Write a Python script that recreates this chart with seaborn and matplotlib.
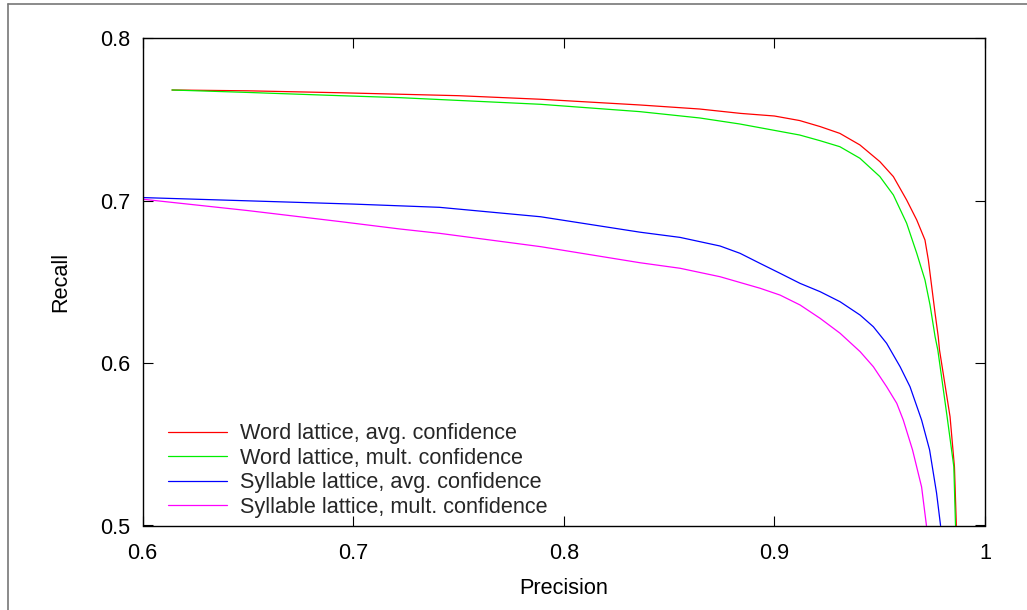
import numpy as np
import pandas as pd
import seaborn as sns
import matplotlib
matplotlib.use("Agg")
import matplotlib.pyplot as plt
from matplotlib.lines import Line2D

# Precision / recall operating points for each lattice + confidence combination
word_avg_precision = [0.614, 0.650, 0.694, 0.750, 0.789, 0.836, 0.8645, 0.884, 0.900,
                      0.912, 0.9217, 0.9311, 0.9406, 0.9501, 0.9565, 0.9628, 0.9676,
                      0.9715, 0.9731, 0.9747, 0.9763, 0.9778, 0.9784, 0.9834, 0.9855,
                      0.9864]
word_avg_recall = [0.768, 0.7675, 0.7663, 0.7645, 0.7623, 0.7588, 0.7563, 0.7536, 0.752,
                   0.7492, 0.7455, 0.7413, 0.7342, 0.7239, 0.7147, 0.7003, 0.688,
                   0.6757, 0.6634, 0.647, 0.6306, 0.6162, 0.608, 0.567, 0.536,
                   0.500]

word_mult_precision = [0.614, 0.650, 0.694, 0.722, 0.789, 0.836, 0.8645, 0.8835, 0.912,
                       0.9217, 0.9311, 0.9406, 0.9501, 0.9565, 0.9628, 0.9676, 0.9715,
                       0.9739, 0.9763, 0.9776, 0.9820, 0.9852, 0.986]
word_mult_recall = [0.768, 0.7665, 0.7645, 0.7633, 0.7592, 0.7547, 0.7508, 0.7471, 0.7403,
                    0.7368, 0.7331, 0.726, 0.7147, 0.7034, 0.686, 0.6675, 0.6511,
                    0.6357, 0.6162, 0.608, 0.567, 0.5362, 0.500]

syl_avg_precision = [0.600, 0.650, 0.700, 0.741, 0.789, 0.8362, 0.8552, 0.8742, 0.8837,
                     0.8932, 0.9027, 0.9122, 0.9217, 0.9312, 0.9407, 0.947, 0.9533,
                     0.9597, 0.9644, 0.9699, 0.9737, 0.977, 0.9789]
syl_avg_recall = [0.7018, 0.6998, 0.6978, 0.6958, 0.690, 0.6805, 0.6773, 0.672, 0.6675,
                  0.6613, 0.6552, 0.649, 0.6439, 0.6377, 0.6295, 0.6223, 0.6121,
                  0.5977, 0.5854, 0.5649, 0.5465, 0.520, 0.500]

syl_mult_precision = [0.600, 0.650, 0.694, 0.722, 0.741, 0.789, 0.8362, 0.8552, 0.8742,
                      0.8932, 0.9027, 0.9122, 0.9217, 0.9312, 0.9407, 0.947, 0.9533,
                      0.9581, 0.9612, 0.9656, 0.9699, 0.9722]
syl_mult_recall = [0.7008, 0.6938, 0.687, 0.6825, 0.6798, 0.6716, 0.6617, 0.6583, 0.6531,
                   0.646, 0.6418, 0.6357, 0.6275, 0.6183, 0.607, 0.5977, 0.5854,
                   0.5752, 0.5649, 0.5465, 0.5237, 0.500]

series_names = ["Word lattice, avg. confidence",
                "Word lattice, mult. confidence",
                "Syllable lattice, avg. confidence",
                "Syllable lattice, mult. confidence"]
series_colors = ["#ff0000", "#00ee00", "#0000ff", "#ff00ff"]

x_ticks = [0.6, 0.7, 0.8, 0.9, 1.0]
x_tick_labels = ["0.6", "0.7", "0.8", "0.9", "1"]
y_ticks = [0.5, 0.6, 0.7, 0.8]
y_tick_labels = ["0.5", "0.6", "0.7", "0.8"]

frames = []
for name, p, r in zip(series_names,
                      [word_avg_precision, word_mult_precision, syl_avg_precision, syl_mult_precision],
                      [word_avg_recall, word_mult_recall, syl_avg_recall, syl_mult_recall]):
    frames.append(pd.DataFrame({"Precision": p, "Recall": r, "series": name}))
df = pd.concat(frames, ignore_index=True)

sns.set_theme(style="white")
plt.rcParams["font.family"] = ["Liberation Sans", "DejaVu Sans"]
FS = 15.6

fig = plt.figure(figsize=(10.27, 6.10), dpi=100)
ax = fig.add_axes([142.5 / 1027, 1 - 525.5 / 610, (985 - 142.5) / 1027, (525.5 - 38) / 610])

sns.lineplot(data=df, x="Precision", y="Recall", hue="series", hue_order=series_names,
             palette=series_colors, estimator=None, sort=False, linewidth=0.9, ax=ax)

ax.set_xlim(0.6, 1.0)
ax.set_ylim(0.5, 0.8)
ax.set_xticks(x_ticks)
ax.set_xticklabels(x_tick_labels)
ax.set_yticks(y_ticks)
ax.set_yticklabels(y_tick_labels)
ax.tick_params(axis="both", which="both", direction="in", length=7.2, width=0.8,
               color="black", labelsize=FS, labelcolor="black",
               top=True, right=True, bottom=True, left=True)
ax.tick_params(axis="x", pad=12.5)
ax.tick_params(axis="y", pad=9)
for s in ax.spines.values():
    s.set_visible(True)
    s.set_color("black")
    s.set_linewidth(1.0)

ax.set_xlabel("Precision", fontsize=FS, color="black")
ax.set_ylabel("Recall", fontsize=FS, color="black")
ax.xaxis.set_label_coords(0.5, (525.5 - 578) / 487.5)
ax.yaxis.set_label_coords((71.3 - 142.5) / 842.5, 0.5)

handles = [Line2D([], [], color=c, linewidth=0.9) for c in series_colors]
ax.legend(handles, series_names, loc="lower left",
          bbox_to_anchor=((168 - 142.5) / 842.5, 0.016),
          frameon=False, fontsize=FS, handlelength=2.7, handletextpad=0.6,
          labelspacing=0.16, borderpad=0, borderaxespad=0)

# page frame along the top and left edges
fig.add_artist(Line2D([8 / 1027, 1.0], [1 - 4 / 610, 1 - 4 / 610], transform=fig.transFigure,
                      color="#777777", linewidth=1.2))
fig.add_artist(Line2D([8 / 1027, 8 / 1027], [0.0, 1 - 4 / 610], transform=fig.transFigure,
                      color="#777777", linewidth=1.2))

fig.savefig("out.png", dpi=100, facecolor="white")
